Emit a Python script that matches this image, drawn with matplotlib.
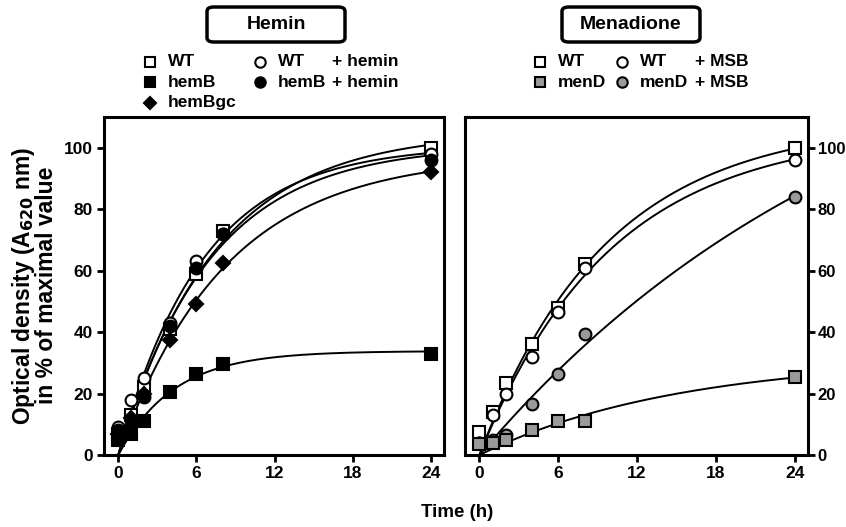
import numpy as np
import matplotlib.pyplot as plt
from matplotlib.lines import Line2D
from matplotlib.patches import FancyBboxPatch

plt.rcParams['font.family'] = ['Liberation Sans', 'DejaVu Sans']
plt.rcParams['font.weight'] = 'bold'

# sampling times (h)
time = [0, 1, 2, 4, 6, 8, 24]

# Hemin panel (% of maximal OD620)
wt = [7, 13, 22, 41, 59, 73, 100]
hemB = [5, 7, 11, 20.5, 26.5, 29.5, 33]
hemBgc = [7, 12, 20, 37.5, 49, 62.5, 92]
wt_hemin = [9, 18, 25, 43, 63, 72, 98]
hemB_hemin = [8, 10, 19, 42, 61, 72, 96]

# Menadione panel
wt2 = [7.5, 14, 23.5, 36, 48, 62, 100]
menD = [3.5, 4, 5, 8, 11, 11, 25.5]
wt_msb = [4, 13, 20, 32, 46.5, 61, 96]
menD_msb = [4, 5, 6.5, 16.5, 26.5, 39.5, 84]

grey = '#9a9a9a'


def fit_curve(t, y):
    # one-phase association through the origin: y = A*(1-exp(-k t))
    t = np.array(t, float)
    y = np.array(y, float)
    best = None
    for k in np.linspace(0.005, 1.0, 4000):
        f = 1 - np.exp(-k * t)
        a = np.sum(y * f) / np.sum(f * f)
        sse = np.sum((y - a * f) ** 2)
        if best is None or sse < best[0]:
            best = (sse, a, k)
    tt = np.linspace(0, 24, 200)
    return tt, best[1] * (1 - np.exp(-best[2] * tt))


fig = plt.figure(figsize=(8.46, 5.27), dpi=100)
ax1 = fig.add_axes([0.1229, 0.1366, 0.4019, 0.6414])
ax2 = fig.add_axes([0.5496, 0.1366, 0.4054, 0.6414])

left_series = [
    (wt, 's', 'white'),
    (wt_hemin, 'o', 'white'),
    (hemB_hemin, 'o', 'black'),
    (hemBgc, 'D', 'black'),
    (hemB, 's', 'black'),
]
right_series = [
    (wt2, 's', 'white'),
    (wt_msb, 'o', 'white'),
    (menD_msb, 'o', grey),
    (menD, 's', grey),
]

for ax, series in [(ax1, left_series), (ax2, right_series)]:
    for y, m, fc in series:
        tt, yy = fit_curve(time, y)
        ax.plot(tt, yy, color='black', lw=1.4, zorder=2)
    for y, m, fc in series:
        ms = 7 if m == 'D' else 8.5
        ax.plot(time, y, linestyle='none', marker=m, markersize=ms,
                markerfacecolor=fc, markeredgecolor='black', markeredgewidth=1.5,
                zorder=3, clip_on=False)
    ax.set_xlim(-1.1, 25)
    ax.set_ylim(0, 110)
    ax.set_xticks([0, 6, 12, 18, 24])
    ax.set_yticks([0, 20, 40, 60, 80, 100])
    for s in ax.spines.values():
        s.set_linewidth(2.2)
    ax.tick_params(direction='out', length=5, width=2, labelsize=12.5, pad=3)
    for lab in ax.get_xticklabels() + ax.get_yticklabels():
        lab.set_fontweight('bold')

ax2.yaxis.tick_right()
ax2.tick_params(axis='y', left=False, right=True, labelsize=12, pad=2)

fig.text(0.040, 0.458, 'Optical density (A$_\\mathbf{620}$ nm)\nin % of maximal value',
         rotation=90, ha='center', va='center', fontsize=16.5, fontweight='bold',
         linespacing=0.9)
fig.text(0.54, 0.028, 'Time (h)', ha='center', va='center', fontsize=13.5, fontweight='bold')

# boxed panel titles
for x0, title in [(0.2447, 'Hemin'), (0.6643, 'Menadione')]:
    box = FancyBboxPatch((x0, 0.9203), 0.1631, 0.0664, transform=fig.transFigure,
                         boxstyle='round,pad=0,rounding_size=0.008',
                         facecolor='white', edgecolor='black', lw=2.5)
    fig.patches.append(box)
    fig.text(x0 + 0.1631 / 2, 0.9203 + 0.0664 / 2, title, ha='center', va='center',
             fontsize=14, fontweight='bold')


def legend_item(x, y, marker, fc, label):
    ms = 6.5 if marker == 'D' else 7.5
    fig.add_artist(Line2D([x], [y], transform=fig.transFigure, linestyle='none',
                          marker=marker, markersize=ms, markerfacecolor=fc,
                          markeredgecolor='black', markeredgewidth=1.5))
    fig.text(x + 0.021, y, label, ha='left', va='center', fontsize=12.5, fontweight='bold')


rows = [0.8824, 0.8444, 0.8046]
legend_item(0.1773, rows[0], 's', 'white', 'WT')
legend_item(0.1773, rows[1], 's', 'black', 'hemB')
legend_item(0.1773, rows[2], 'D', 'black', 'hemBgc')
legend_item(0.3073, rows[0], 'o', 'white', 'WT')
legend_item(0.3073, rows[1], 'o', 'black', 'hemB')
fig.text(0.3924, rows[0], '+ hemin', ha='left', va='center', fontsize=12.5, fontweight='bold')
fig.text(0.3924, rows[1], '+ hemin', ha='left', va='center', fontsize=12.5, fontweight='bold')

legend_item(0.6383, rows[0], 's', 'white', 'WT')
legend_item(0.6383, rows[1], 's', grey, 'menD')
legend_item(0.7352, rows[0], 'o', 'white', 'WT')
legend_item(0.7352, rows[1], 'o', grey, 'menD')
fig.text(0.8215, rows[0], '+ MSB', ha='left', va='center', fontsize=12.5, fontweight='bold')
fig.text(0.8215, rows[1], '+ MSB', ha='left', va='center', fontsize=12.5, fontweight='bold')

fig.savefig('out.png', dpi=100)
